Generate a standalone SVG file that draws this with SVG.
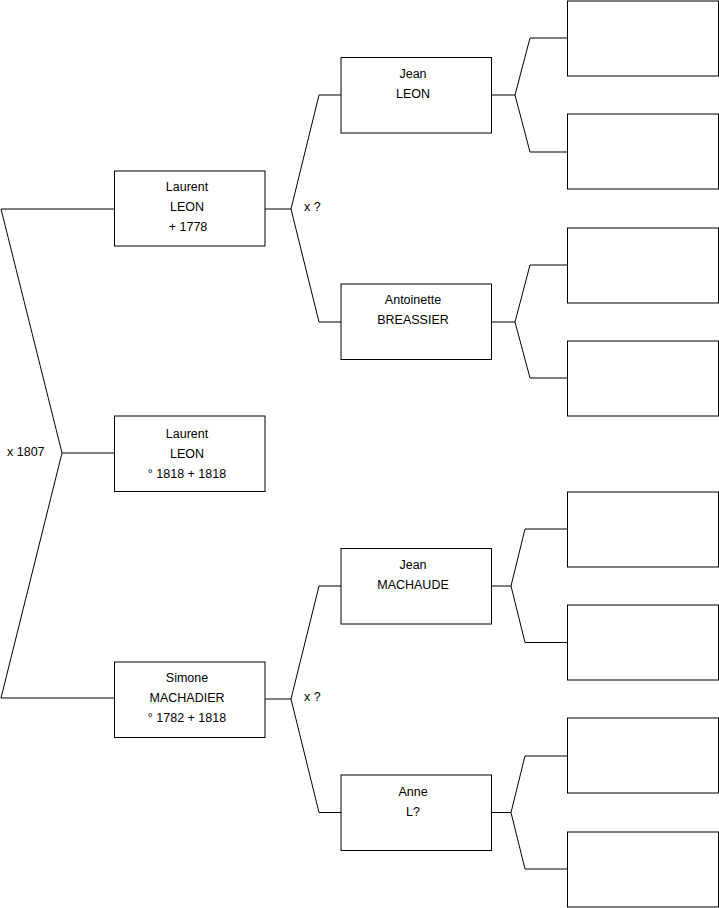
<svg xmlns="http://www.w3.org/2000/svg" width="719" height="908" viewBox="0 0 719 908">
<style>
.box{fill:#fff;stroke:#000;stroke-width:1}
.ln{fill:none;stroke:#000;stroke-width:1}
text{font-family:"Liberation Sans",Arial,sans-serif;font-size:12.5px;fill:#000}
.c{text-anchor:middle}
</style>
<rect width="719" height="908" fill="#fff"/>
<g id="connectors">
<polyline class="ln" points="1,209 114,209"/>
<polyline class="ln" points="1,209 62,453 1,698"/>
<polyline class="ln" points="62,453 114,453"/>
<polyline class="ln" points="1,698 114,698"/>
<polyline class="ln" points="265,209 291,209"/>
<polyline class="ln" points="341,95 319,95 291,209 319,322 341,322"/>
<polyline class="ln" points="265,699 291,699"/>
<polyline class="ln" points="341,586 319,586 291,699 319,812.5 341,812.5"/>
<polyline class="ln" points="491,95 515,95"/>
<polyline class="ln" points="567,38 530,38 515,95 530,152 567,152"/>
<polyline class="ln" points="491,322 515,322"/>
<polyline class="ln" points="567,265 530,265 515,322 530,378 567,378"/>
<polyline class="ln" points="491,586 511,586"/>
<polyline class="ln" points="567,529 525,529 511,586 525,642.5 567,642.5"/>
<polyline class="ln" points="491,812.5 511,812.5"/>
<polyline class="ln" points="567,756 525,756 511,812.5 525,869 567,869"/>
<text x="7" y="456">x 1807</text>
<text x="304" y="211">x ?</text>
<text x="304" y="701">x ?</text>
</g>
<g id="laurent-leon-1778">
<rect class="box" x="114.5" y="171" width="150.5" height="75"/>
<text class="c" x="187" y="191">Laurent</text>
<text class="c" x="187" y="211">LEON</text>
<text class="c" x="188" y="231">+ 1778</text>
</g>
<g id="laurent-leon-1818">
<rect class="box" x="114.5" y="416" width="150.5" height="75.5"/>
<text class="c" x="187" y="438">Laurent</text>
<text class="c" x="187" y="458">LEON</text>
<text class="c" x="187" y="478">° 1818 + 1818</text>
</g>
<g id="simone-machadier">
<rect class="box" x="114.5" y="662" width="150.5" height="75.5"/>
<text class="c" x="187" y="682">Simone</text>
<text class="c" x="187" y="702">MACHADIER</text>
<text class="c" x="187" y="722">° 1782 + 1818</text>
</g>
<g id="jean-leon">
<rect class="box" x="341" y="57.5" width="150.5" height="75.5"/>
<text class="c" x="413" y="78">Jean</text>
<text class="c" x="413" y="98">LEON</text>
</g>
<g id="antoinette-breassier">
<rect class="box" x="341" y="284" width="150.5" height="75.5"/>
<text class="c" x="413" y="304">Antoinette</text>
<text class="c" x="413" y="324">BREASSIER</text>
</g>
<g id="jean-machaude">
<rect class="box" x="341" y="548.5" width="150.5" height="75.5"/>
<text class="c" x="413" y="569">Jean</text>
<text class="c" x="413" y="589">MACHAUDE</text>
</g>
<g id="anne-l">
<rect class="box" x="341" y="775" width="150.5" height="75.5"/>
<text class="c" x="413" y="796">Anne</text>
<text class="c" x="413" y="816">L?</text>
</g>
<g id="ggp1"><rect class="box" x="567.5" y="1" width="151" height="75"/></g>
<g id="ggp2"><rect class="box" x="567.5" y="114" width="151" height="75"/></g>
<g id="ggp3"><rect class="box" x="567.5" y="228" width="151" height="75"/></g>
<g id="ggp4"><rect class="box" x="567.5" y="341" width="151" height="75"/></g>
<g id="ggp5"><rect class="box" x="567.5" y="492" width="151" height="75"/></g>
<g id="ggp6"><rect class="box" x="567.5" y="605" width="151" height="75"/></g>
<g id="ggp7"><rect class="box" x="567.5" y="718" width="151" height="75"/></g>
<g id="ggp8"><rect class="box" x="567.5" y="832" width="151" height="75"/></g>
</svg>
